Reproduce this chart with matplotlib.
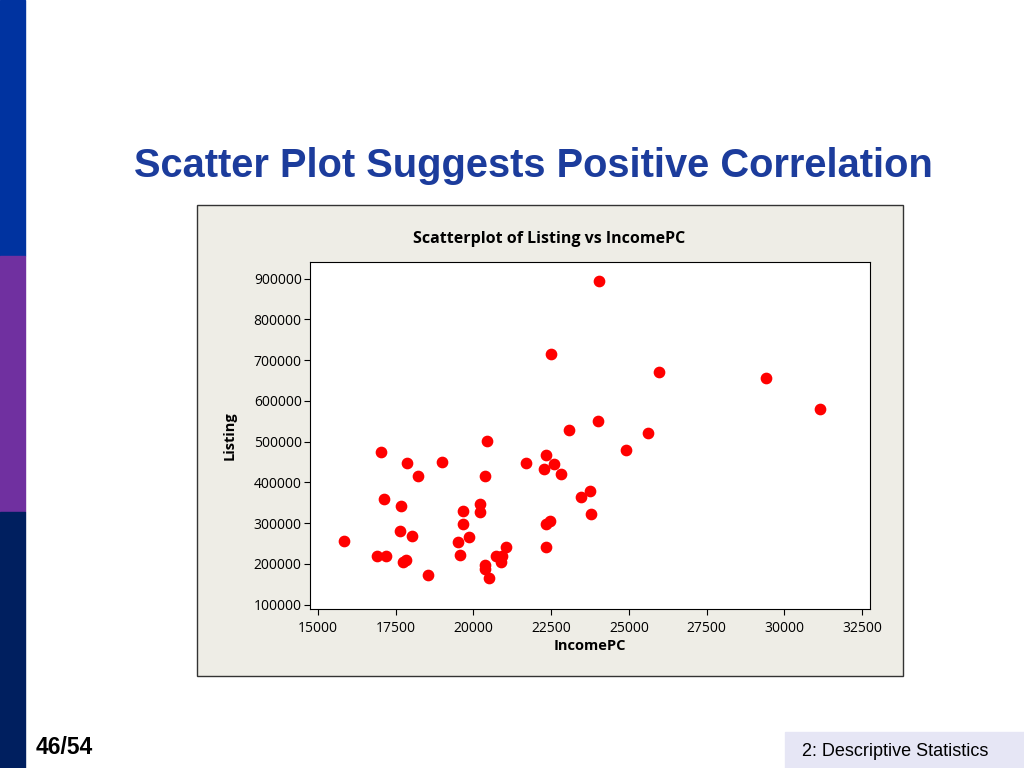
import matplotlib
matplotlib.use("Agg")
import matplotlib.pyplot as plt
from matplotlib.patches import Rectangle

income = [15840,17035,17875,18230,19005,20430,20390,17130,17680,18035,17650,16905,17195,17745,17840,18550,
          19520,19585,19680,19680,19845,20230,20230,20360,20360,20490,20715,20880,20910,21040,21685,22270,
          22335,22495,22590,22815,22335,22465,22335,23070,23460,23750,23780,24045,24010,24915,25630,25980,29400,31150]
listing = [257000,474000,447000,416000,450000,501000,416000,359000,342000,269000,281000,218000,218000,205000,210000,173000,
           254000,222000,298000,330000,266000,347000,328000,186000,198000,164000,220000,205000,218000,242000,447000,433000,
           467000,714000,445000,420000,298000,305000,242000,528000,364000,379000,323000,895000,550000,479000,521000,670000,655000,580000]
xticks = [15000,17500,20000,22500,25000,27500,30000,32500]
yticks = [100000,200000,300000,400000,500000,600000,700000,800000,900000]

W, H = 1024, 768
fig = plt.figure(figsize=(10.24, 7.68), dpi=100)
fig.patch.set_facecolor("white")
# side bars
fig.add_artist(Rectangle((0, 1-256/H), 25/W, 256/H, transform=fig.transFigure, color="#0033A0"))
fig.add_artist(Rectangle((0, 1-512/H), 25/W, 256/H, transform=fig.transFigure, color="#7030A0"))
fig.add_artist(Rectangle((0, 0), 25/W, 256/H, transform=fig.transFigure, color="#001F5F"))
fig.text(533/W, 1-166/H, "Scatter Plot Suggests Positive Correlation", ha="center", va="center",
         fontsize=28.7, fontweight="bold", color="#1C3C9C", family="Liberation Sans")
fig.text(36/W, 1-748/H, "46/54", ha="left", va="center", fontsize=16.5, fontweight="bold", family="Liberation Sans")
fig.add_artist(Rectangle((785/W, 0), 239/W, 36/H, transform=fig.transFigure, color="#E6E6F5"))
fig.text(895/W, 1-751/H, "2: Descriptive Statistics", ha="center", va="center", fontsize=13, family="Liberation Sans")
# chart box
fig.add_artist(Rectangle((197/W, 1-676/H), 706/W, 471/H, transform=fig.transFigure,
                         facecolor="#EEEDE6", edgecolor="#333333", lw=1, zorder=-1))
fig.text(549/W, 1-239/H, "Scatterplot of Listing vs IncomePC", ha="center", va="center",
         fontsize=11.5, fontweight="bold", family="Open Sans")

ax = fig.add_axes([310/W, 1-609/H, 560/W, 347/H])
ax.set_zorder(2)
ax.set_facecolor("white")
ax.scatter(income, listing, s=55, color="#FF0000", zorder=3)
ax.set_xlim(14750, 32750)
ax.set_ylim(89000, 941000)
ax.set_xticks(xticks)
ax.set_yticks(yticks)
ax.set_xticklabels([str(v) for v in xticks], fontsize=10, family="Open Sans")
ax.set_yticklabels([str(v) for v in yticks], fontsize=10, family="Open Sans")
ax.set_xlabel("IncomePC", fontsize=10.5, fontweight="bold", family="Open Sans", labelpad=2)
ax.set_ylabel("Listing", fontsize=10.5, fontweight="bold", family="Open Sans", labelpad=12)
ax.tick_params(axis="x", length=4, pad=5)
ax.tick_params(axis="y", length=4, pad=2)
for s in ax.spines.values():
    s.set_linewidth(0.8)
fig.savefig("out.png", dpi=100)
